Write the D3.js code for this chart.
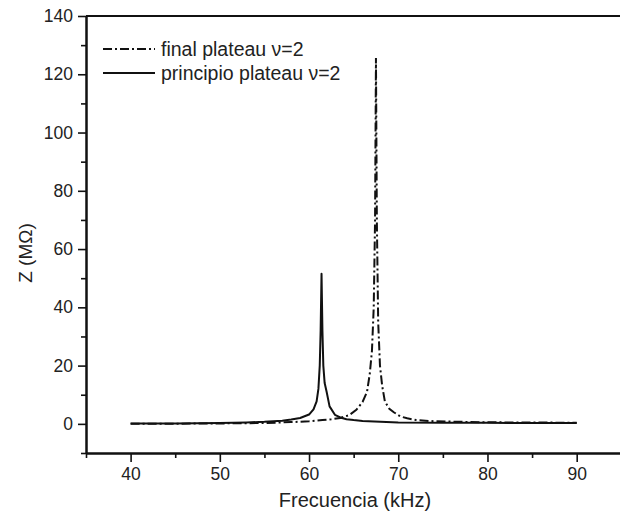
<!DOCTYPE html>
<html>
<head>
<meta charset="utf-8">
<script src="https://cdn.jsdelivr.net/npm/d3@7"></script>
<style>
  html, body { margin: 0; padding: 0; background: #fff; }
  svg { display: block; }
  text { font-family: "Liberation Sans", Arial, sans-serif; fill: #222; }
</style>
</head>
<body>
<svg id="chart" width="620" height="521"></svg>
<script>
// ---- Data ----
const finalFreq = [40, 45, 50, 55, 58, 60, 61.5, 62.5, 63.5, 64.5, 65.3, 66, 66.5, 66.8, 67.05, 67.25, 67.4, 67.5, 67.6, 67.75, 67.95, 68.2, 68.5, 69, 69.5, 70.2, 71, 72, 74, 77, 80, 85, 90];
const finalZ    = [0.0, 0.05, 0.15, 0.3, 0.6, 0.9, 1.3, 1.6, 2.0, 3.0, 4.8, 7.5, 11, 17, 25, 40, 70, 125.6, 70, 35, 20, 13, 7.7, 5.2, 4.0, 2.6, 1.9, 1.3, 0.9, 0.7, 0.55, 0.45, 0.4];

const principioFreq = [40, 45, 50, 53, 55, 57, 58, 59, 60, 60.5, 60.85, 61.05, 61.2, 61.3, 61.4, 61.5, 61.6, 61.75, 61.97, 62.3, 62.9, 63.5, 64.2, 65, 66, 68, 70, 75, 80, 85, 90];
const principioZ    = [0.1, 0.15, 0.3, 0.5, 0.7, 1.1, 1.5, 2.0, 3.2, 5.0, 7.7, 12, 20, 32, 51.5, 32, 20, 14, 11, 6, 3.1, 2.2, 1.6, 1.3, 1.0, 0.7, 0.5, 0.4, 0.35, 0.3, 0.3];

const xMajorTicks = [40, 50, 60, 70, 80, 90];
const xMinorTicks = [35, 45, 55, 65, 75, 85];
const yMajorTicks = [0, 20, 40, 60, 80, 100, 120, 140];
const yMinorTicks = [-10, 10, 30, 50, 70, 90, 110, 130];

const seriesNames = ["final plateau \u03BD=2", "principio plateau \u03BD=2"];
const xTitle = "Frecuencia (kHz)";
const yTitle = "Z (M\u03A9)";

// ---- Layout ----
const svg = d3.select("#chart");
const mLeft = 86, mRight = 621.3, mTop = 16, mBottom = 453;

const x = d3.scaleLinear().domain([35, 95]).range([mLeft, mRight]);
const y = d3.scaleLinear().domain([-10, 140]).range([mBottom, mTop]);

// Curves
const line = d3.line().x(d => x(d[0])).y(d => y(d[1]));
const finalData = finalFreq.map((f, i) => [f, finalZ[i]]);
const principioData = principioFreq.map((f, i) => [f, principioZ[i]]);

svg.append("path").datum(principioData)
  .attr("d", line).attr("fill", "none").attr("stroke", "#111")
  .attr("stroke-width", 2).attr("stroke-linejoin", "round");

svg.append("path").datum(finalData)
  .attr("d", line).attr("fill", "none").attr("stroke", "#111")
  .attr("stroke-width", 2).attr("stroke-dasharray", "9,3,2,3");

// Axes
const axisColor = "#111";
const yAxis = svg.append("g").attr("transform", `translate(${mLeft},0)`)
  .call(d3.axisLeft(y).tickValues(yMajorTicks).tickSize(8).tickSizeOuter(0).tickPadding(5));
const yMinor = svg.append("g").attr("transform", `translate(${mLeft},0)`)
  .call(d3.axisLeft(y).tickValues(yMinorTicks).tickSize(5).tickSizeOuter(0).tickFormat(""));
const xAxis = svg.append("g").attr("transform", `translate(0,${mBottom})`)
  .call(d3.axisBottom(x).tickValues(xMajorTicks).tickSize(9).tickSizeOuter(0).tickPadding(6));
const xMinor = svg.append("g").attr("transform", `translate(0,${mBottom})`)
  .call(d3.axisBottom(x).tickValues(xMinorTicks).tickSize(5).tickSizeOuter(0).tickFormat(""));

[yAxis, yMinor, xAxis, xMinor].forEach(g => {
  g.selectAll(".domain").attr("stroke", axisColor).attr("stroke-width", 2);
  g.selectAll(".tick line").attr("stroke", axisColor).attr("stroke-width", 1.6);
  g.selectAll(".tick text").style("font-family", "'Liberation Sans', Arial, sans-serif")
    .style("font-size", "17.5px").attr("fill", "#222");
});

// Top frame line
svg.append("line").attr("x1", mLeft).attr("x2", 620).attr("y1", y(140)).attr("y2", y(140))
  .attr("stroke", axisColor).attr("stroke-width", 2);

// Axis titles
svg.append("text").attr("x", 355).attr("y", 507).attr("text-anchor", "middle")
  .style("font-size", "20px").text(xTitle);
svg.append("text").attr("transform", "translate(32,253) rotate(-90)")
  .attr("text-anchor", "middle").style("font-size", "19px").text(yTitle);

// Legend
const legend = svg.append("g");
const legendDash = ["9,3,2,3", null];
seriesNames.forEach((name, i) => {
  const ly = 49 + i * 24;
  const l = legend.append("line").attr("x1", 103).attr("x2", 155).attr("y1", ly).attr("y2", ly)
    .attr("stroke", "#111").attr("stroke-width", 2);
  if (legendDash[i]) l.attr("stroke-dasharray", legendDash[i]);
  legend.append("text").attr("x", 161).attr("y", ly).attr("dy", "0.35em")
    .style("font-size", "19.5px").text(name);
});
</script>
</body>
</html>
